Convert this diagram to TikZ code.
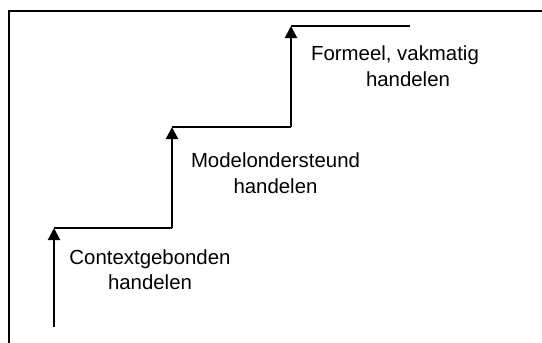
\documentclass[tikz,border=0pt]{standalone}
\usepackage{fontspec}
\setmainfont{Liberation Sans}
\usetikzlibrary{arrows.meta}
\begin{document}
\begin{tikzpicture}[x=1pt,y=-1pt,
  frame/.style={line width=2pt},
  stair/.style={line width=2pt},
  up/.style={line width=2pt,-{Triangle[width=12pt,length=12pt]}},
  lbl/.style={anchor=base,inner sep=0pt,font=\fontsize{20.4}{25}\selectfont}]
\useasboundingbox (0,0) rectangle (542,343);
\fill[white] (0,0) rectangle (542,343);
% frame (left and top edges visible)
\draw[frame] (9,343) -- (9,11) -- (542,11);
% stair coordinates
\coordinate (s0) at (54,327);
\coordinate (s1) at (54,228);
\coordinate (s2) at (172,228);
\coordinate (s3) at (172,127);
\coordinate (s4) at (291,127);
\coordinate (s5) at (291,26);
\coordinate (s6) at (410,26);
\draw[up] (s0) -- (s1);
\draw[stair] (s1) -- (s2);
\draw[up] (s2) -- (s3);
\draw[stair] (s3) -- (s4);
\draw[up] (s4) -- (s5);
\draw[stair] (s5) -- (s6);
% labels
\node[lbl] (c1) at (150,264) {Contextgebonden};
\node[lbl] (c2) at (150,289) {handelen};
\node[lbl] (m1) at (275.5,167) {Modelondersteund};
\node[lbl] (m2) at (275.5,193) {handelen};
\node[lbl] (f1) at (395,60) {Formeel, vakmatig};
\node[lbl] (f2) at (408,86) {handelen};
\end{tikzpicture}
\end{document}
